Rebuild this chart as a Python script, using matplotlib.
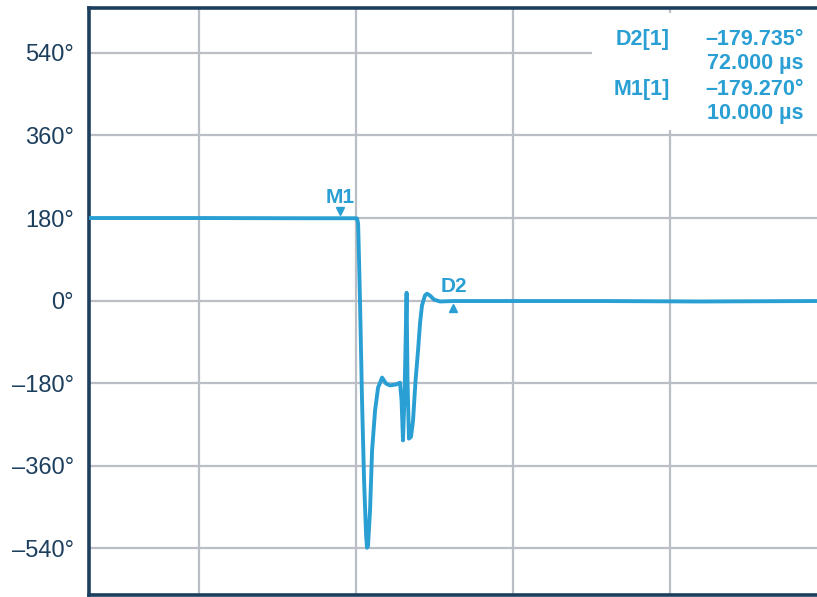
import numpy as np
import matplotlib.pyplot as plt
import matplotlib.transforms as mtransforms

# phase trace (time in us, phase in degrees)
t_us = [-150, -80, -15, 19.6, 20.8, 21.5, 22.1, 22.7, 24.0, 25.3, 26.6, 27.2, 27.8,
        29.1, 30.4, 32.3, 34.2, 36.8, 39.3, 41.8, 45.7, 48.2, 49.2, 50.1, 51.1,
        52.4, 53.0, 53.9, 55.2, 56.5, 58.1, 59.7, 61.0, 62.2, 64.1, 65.4, 67.3,
        69.9, 73.7, 82.6, 112, 176, 239, 314]
phase_deg = [180, 180, 179.5, 179.5, 179, 168, 87, 0, -218, -393, -513, -539, -535,
             -458, -327, -240, -190, -168, -181, -185, -183, -179, -218, -305, -207,
             17, -175, -301, -297, -262, -175, -109, -48, -11, 11, 15, 11,
             2, -2, -1, -1, -1, -2, -1]

m1_t, m1_phase = 10, 180
d2_t, d2_phase = 82, 0

yticks = [540, 360, 180, 0, -180, -360, -540]
ytick_labels = ['540°', '360°', '180°', '0°', '\u2013180°', '\u2013360°', '\u2013540°']
xgrid = [-80, 20, 120, 220, 320]

readout_names = ['D2[1]', '', 'M1[1]', '']
readout_values = ['\u2013179.735°', '72.000 µs', '\u2013179.270°', '10.000 µs']

trace_col = '#2a9fd3'
navy = '#1d3f5e'

plt.rcParams['font.family'] = ['Liberation Sans', 'DejaVu Sans']

fig = plt.figure(figsize=(8.17, 5.97), dpi=100)
ax = fig.add_axes([0.109, 0.0034, 0.891, 0.9832])

ax.plot(t_us, phase_deg, color=trace_col, linewidth=2.8, solid_joinstyle='round', zorder=3)

ax.set_yticks(yticks)
ax.set_yticklabels(ytick_labels)
ax.set_xticks(xgrid)
# limits after the ticks, otherwise the 320 grid line widens the view
ax.set_xlim(-150, 314)
ax.set_ylim(-642, 638)
ax.tick_params(axis='x', length=0, labelbottom=False)
ax.tick_params(axis='y', length=0, pad=11, labelsize=17, labelcolor=navy)

ax.set_axisbelow(True)
ax.grid(True, color='#b9bfc5', linewidth=1.6)

for side in ['left', 'top', 'bottom']:
    ax.spines[side].set_color(navy)
    ax.spines[side].set_linewidth(2.6)
ax.spines['right'].set_visible(False)

# markers
down = mtransforms.offset_copy(ax.transData, fig=fig, x=0, y=5, units='points')
up = mtransforms.offset_copy(ax.transData, fig=fig, x=0, y=-5, units='points')
ax.plot([m1_t], [m1_phase], marker='v', color=trace_col, markersize=6, transform=down, zorder=4)
ax.plot([d2_t], [d2_phase], marker='^', color=trace_col, markersize=6, transform=up, zorder=4)
ax.annotate('M1', xy=(m1_t, m1_phase), xytext=(0, 15), textcoords='offset points',
            ha='center', va='center', fontsize=15, fontweight='bold', color=trace_col)
ax.annotate('D2', xy=(d2_t, d2_phase), xytext=(1, 10), textcoords='offset points',
            ha='center', va='center', fontsize=15, fontweight='bold', color=trace_col)

# readout box covering the grid
ax.add_patch(plt.Rectangle((0.691, 0.792), 0.32, 0.2, transform=ax.transAxes,
                           facecolor='white', edgecolor='none', zorder=2))
line_y = [0.9455, 0.9046, 0.862, 0.821]
for name, val, yy in zip(readout_names, readout_values, line_y):
    if name:
        ax.text(0.798, yy, name, transform=ax.transAxes, ha='right', va='center',
                fontsize=15.5, fontweight='bold', color=trace_col, zorder=5)
    ax.text(0.982, yy, val, transform=ax.transAxes, ha='right', va='center',
            fontsize=15.5, fontweight='bold', color=trace_col, zorder=5)

fig.savefig('out.png', dpi=100)
